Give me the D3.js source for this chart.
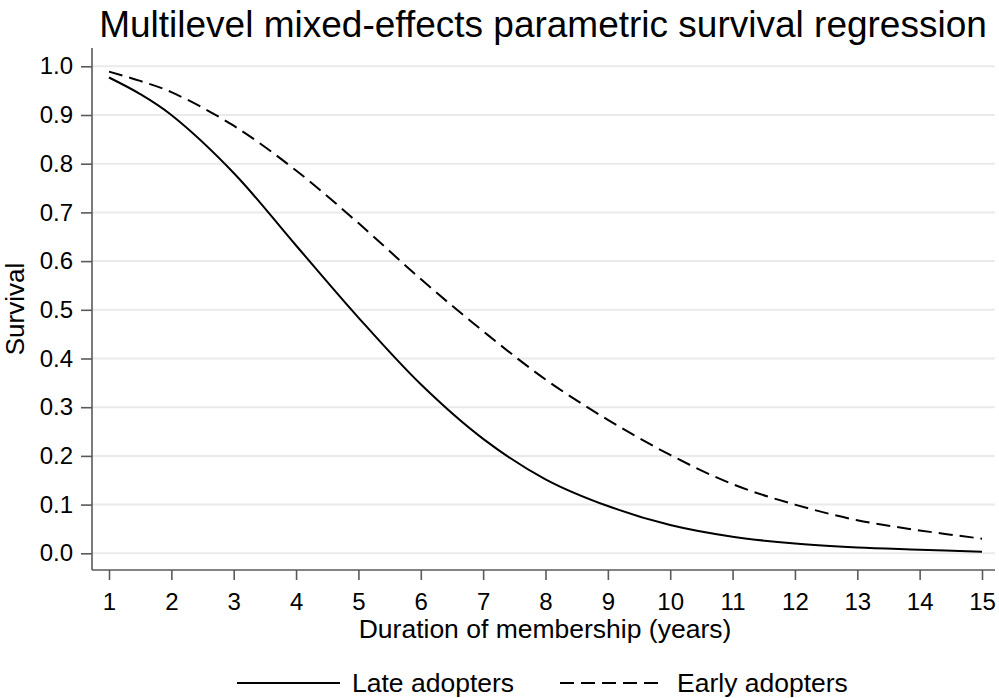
<!DOCTYPE html>
<html>
<head>
<meta charset="utf-8">
<script src="https://cdn.jsdelivr.net/npm/d3@7"></script>
<style>
  body { margin: 0; background: #fff; }
  text { font-family: "Liberation Sans", Arial, sans-serif; fill: #000; }
</style>
</head>
<body>
<svg id="chart" width="999" height="698"></svg>
<script>
// survival estimates (extra half-year reading near the start)
var years = [1, 1.5, 2, 3, 4, 5, 6, 7, 8, 9, 10, 11, 12, 13, 14, 15];
var lateAdopters  = [0.977, 0.943, 0.900, 0.781, 0.632, 0.484, 0.347, 0.235, 0.152, 0.097, 0.058, 0.034, 0.020, 0.012, 0.0075, 0.003];
var earlyAdopters = [0.989, 0.970, 0.947, 0.878, 0.786, 0.678, 0.563, 0.456, 0.357, 0.274, 0.202, 0.142, 0.100, 0.068, 0.047, 0.030];
var xTicks = [1, 2, 3, 4, 5, 6, 7, 8, 9, 10, 11, 12, 13, 14, 15];
var yTicks = [0, 0.1, 0.2, 0.3, 0.4, 0.5, 0.6, 0.7, 0.8, 0.9, 1.0];
var seriesNames = ['Late adopters', 'Early adopters'];

var svg = d3.select('#chart'),
    axisColor = '#5a5a5a';

var x = d3.scaleLinear().domain([1, 15]).range([109, 982]);
var y = d3.scaleLinear().domain([0, 1]).range([553.3, 66.3]);

var plotLeft = 92, plotRight = 995, plotTop = 48, plotBottom = 570;

// gridlines
svg.append('g')
  .selectAll('line')
  .data(yTicks)
  .enter().append('line')
    .attr('x1', plotLeft).attr('x2', plotRight)
    .attr('y1', function(d) { return y(d); })
    .attr('y2', function(d) { return y(d); })
    .attr('stroke', '#eaeaea')
    .attr('stroke-width', 2);

// y axis
var yAxis = svg.append('g')
    .attr('transform', 'translate(' + plotLeft + ',0)')
    .call(d3.axisLeft(y).tickValues(yTicks).tickSize(11).tickPadding(8)
      .tickFormat(d3.format('.1f')));
yAxis.select('.domain').attr('d', 'M0,' + plotTop + 'V' + plotBottom);

// x axis
var xAxis = svg.append('g')
    .attr('transform', 'translate(0,' + plotBottom + ')')
    .call(d3.axisBottom(x).tickValues(xTicks).tickSize(10).tickPadding(13)
      .tickFormat(d3.format('d')));
xAxis.select('.domain').attr('d', 'M' + plotLeft + ',0H' + plotRight);

svg.selectAll('.domain').attr('stroke', axisColor).attr('stroke-width', 1.6);
svg.selectAll('.tick line').attr('stroke', axisColor).attr('stroke-width', 1.6);
svg.selectAll('.tick text')
    .style('font-family', '"Liberation Sans", Arial, sans-serif')
    .style('font-size', '24px')
    .attr('fill', '#000');

// curves
var line = d3.line()
    .x(function(d) { return x(d[0]); })
    .y(function(d) { return y(d[1]); })
    .curve(d3.curveCatmullRom.alpha(0.5));

svg.append('path')
    .datum(d3.zip(years, lateAdopters))
    .attr('d', line)
    .attr('fill', 'none')
    .attr('stroke', '#000')
    .attr('stroke-width', 2);

svg.append('path')
    .datum(d3.zip(years, earlyAdopters))
    .attr('d', line)
    .attr('fill', 'none')
    .attr('stroke', '#000')
    .attr('stroke-width', 2)
    .attr('stroke-dasharray', '14,7');

// titles
svg.append('text')
    .attr('x', 543).attr('y', 37)
    .attr('text-anchor', 'middle')
    .style('font-size', '37px')
    .text('Multilevel mixed-effects parametric survival regression');

svg.append('text')
    .attr('x', 545).attr('y', 638)
    .attr('text-anchor', 'middle')
    .style('font-size', '26.5px')
    .text('Duration of membership (years)');

svg.append('text')
    .attr('transform', 'translate(24,309) rotate(-90)')
    .attr('text-anchor', 'middle')
    .style('font-size', '26px')
    .text('Survival');

// legend
var legend = svg.append('g').attr('transform', 'translate(0,683)');
var legendItems = [
  {name: seriesNames[0], x0: 237, tx: 352, dash: null},
  {name: seriesNames[1], x0: 560, tx: 677, dash: '14,7'}
];
legendItems.forEach(function(d) {
  legend.append('line')
      .attr('x1', d.x0).attr('x2', d.x0 + 103)
      .attr('y1', 0).attr('y2', 0)
      .attr('stroke', '#000')
      .attr('stroke-width', 2)
      .attr('stroke-dasharray', d.dash);
  legend.append('text')
      .attr('x', d.tx).attr('y', 9)
      .style('font-size', '26.5px')
      .text(d.name);
});
</script>
</body>
</html>
